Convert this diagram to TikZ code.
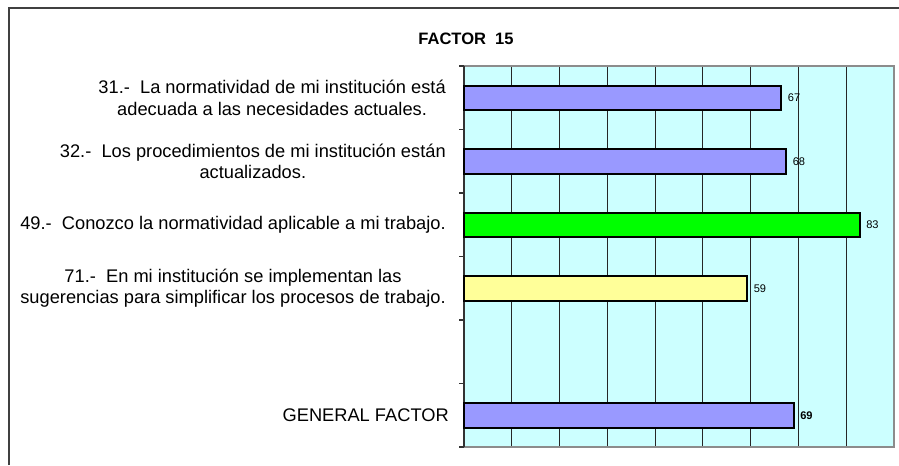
\documentclass[tikz,border=0pt]{standalone}
\usepackage{fontspec}
\setmainfont{Liberation Sans}
\usetikzlibrary{calc}
\definecolor{plotbg}{HTML}{CCFFFF}
\definecolor{barblue}{HTML}{9999FF}
\definecolor{bargreen}{HTML}{00FF00}
\definecolor{baryellow}{HTML}{FFFF99}
\definecolor{framegray}{HTML}{8C8C8C}
\tikzset{
	itemlabel/.style={anchor=east, align=center, inner sep=0, font=\fontsize{13.7}{16.2}\selectfont},
	vallabel/.style={anchor=west, inner sep=0, font=\fontsize{8.3}{9}\selectfont},
	bar/.style={draw=black, line width=1.5pt}
}

\begin{document}
\begin{tikzpicture}[x=0.75pt,y=-0.75pt]
			%%%%% START %%%%%
			\useasboundingbox (0,0) rectangle (899,465);
			\draw[line width=1.5pt, black!75] (9,465) -- (9,7.7) -- (899,7.7);
			
			\node[font=\bfseries\fontsize{12.4}{14}\selectfont] (title) at (466,39) {FACTOR\ \ 15};
			
			\fill[plotbg] (464,66) rectangle (894,447);
			
			\draw[black!85, line width=0.75pt] (511.8,66) -- (511.8,447);
			\draw[black!85, line width=0.75pt] (559.6,66) -- (559.6,447);
			\draw[black!85, line width=0.75pt] (607.3,66) -- (607.3,447);
			\draw[black!85, line width=0.75pt] (655.1,66) -- (655.1,447);
			\draw[black!85, line width=0.75pt] (702.9,66) -- (702.9,447);
			\draw[black!85, line width=0.75pt] (750.7,66) -- (750.7,447);
			\draw[black!85, line width=0.75pt] (798.4,66) -- (798.4,447);
			\draw[black!85, line width=0.75pt] (846.2,66) -- (846.2,447);
			
			\draw[framegray, line width=1.5pt] (464,66) -- (894,66) -- (894,447) -- (464,447);
			\draw[black!80, line width=1.1pt] (464,66) -- (464,447);
			
			\draw[black!80, line width=0.9pt] (459,66) -- (464,66);
			\draw[black!80, line width=0.9pt] (459,129.5) -- (464,129.5);
			\draw[black!80, line width=0.9pt] (459,193) -- (464,193);
			\draw[black!80, line width=0.9pt] (459,256.5) -- (464,256.5);
			\draw[black!80, line width=0.9pt] (459,320) -- (464,320);
			\draw[black!80, line width=0.9pt] (459,383.5) -- (464,383.5);
			\draw[black!80, line width=0.9pt] (459,447) -- (464,447);
			
			\draw[bar, fill=barblue] (464,85.5) rectangle (781.3,110);
			\draw[bar, fill=barblue] (464,149) rectangle (786,173.5);
			\draw[bar, fill=bargreen] (464,212.5) rectangle (859.7,237);
			\draw[bar, fill=baryellow] (464,276) rectangle (747.3,300.5);
			\draw[bar, fill=barblue] (464,403) rectangle (793.7,427.5);
			
			\node[vallabel] (v31) at (787.7,97.75) {67};
			\node[vallabel] (v32) at (792.5,161.25) {68};
			\node[vallabel] (v49) at (866,224.75) {83};
			\node[vallabel] (v71) at (753.5,288.25) {59};
			\node[vallabel, font=\bfseries\fontsize{8.3}{9}\selectfont] (vgen) at (800,415.25) {69};
			
			\node[itemlabel] (q31) at (446,97.75) {31.-~~La normatividad de mi institución está\\adecuada a las necesidades actuales.};
			\node[itemlabel] (q32) at (446,161.25) {32.-~~Los procedimientos de mi institución están\\actualizados.};
			\node[itemlabel] (q49) at (446,224.75) {49.-~~Conozco la normatividad aplicable a mi trabajo.};
			\node[itemlabel] (q71) at (446,288.25) {71.-~~En mi institución se implementan las\\sugerencias para simplificar los procesos de trabajo.};
			\node[itemlabel] (qgen) at (449,415.25) {GENERAL FACTOR};
			%%%%% END %%%%%
\end{tikzpicture}
\end{document}
